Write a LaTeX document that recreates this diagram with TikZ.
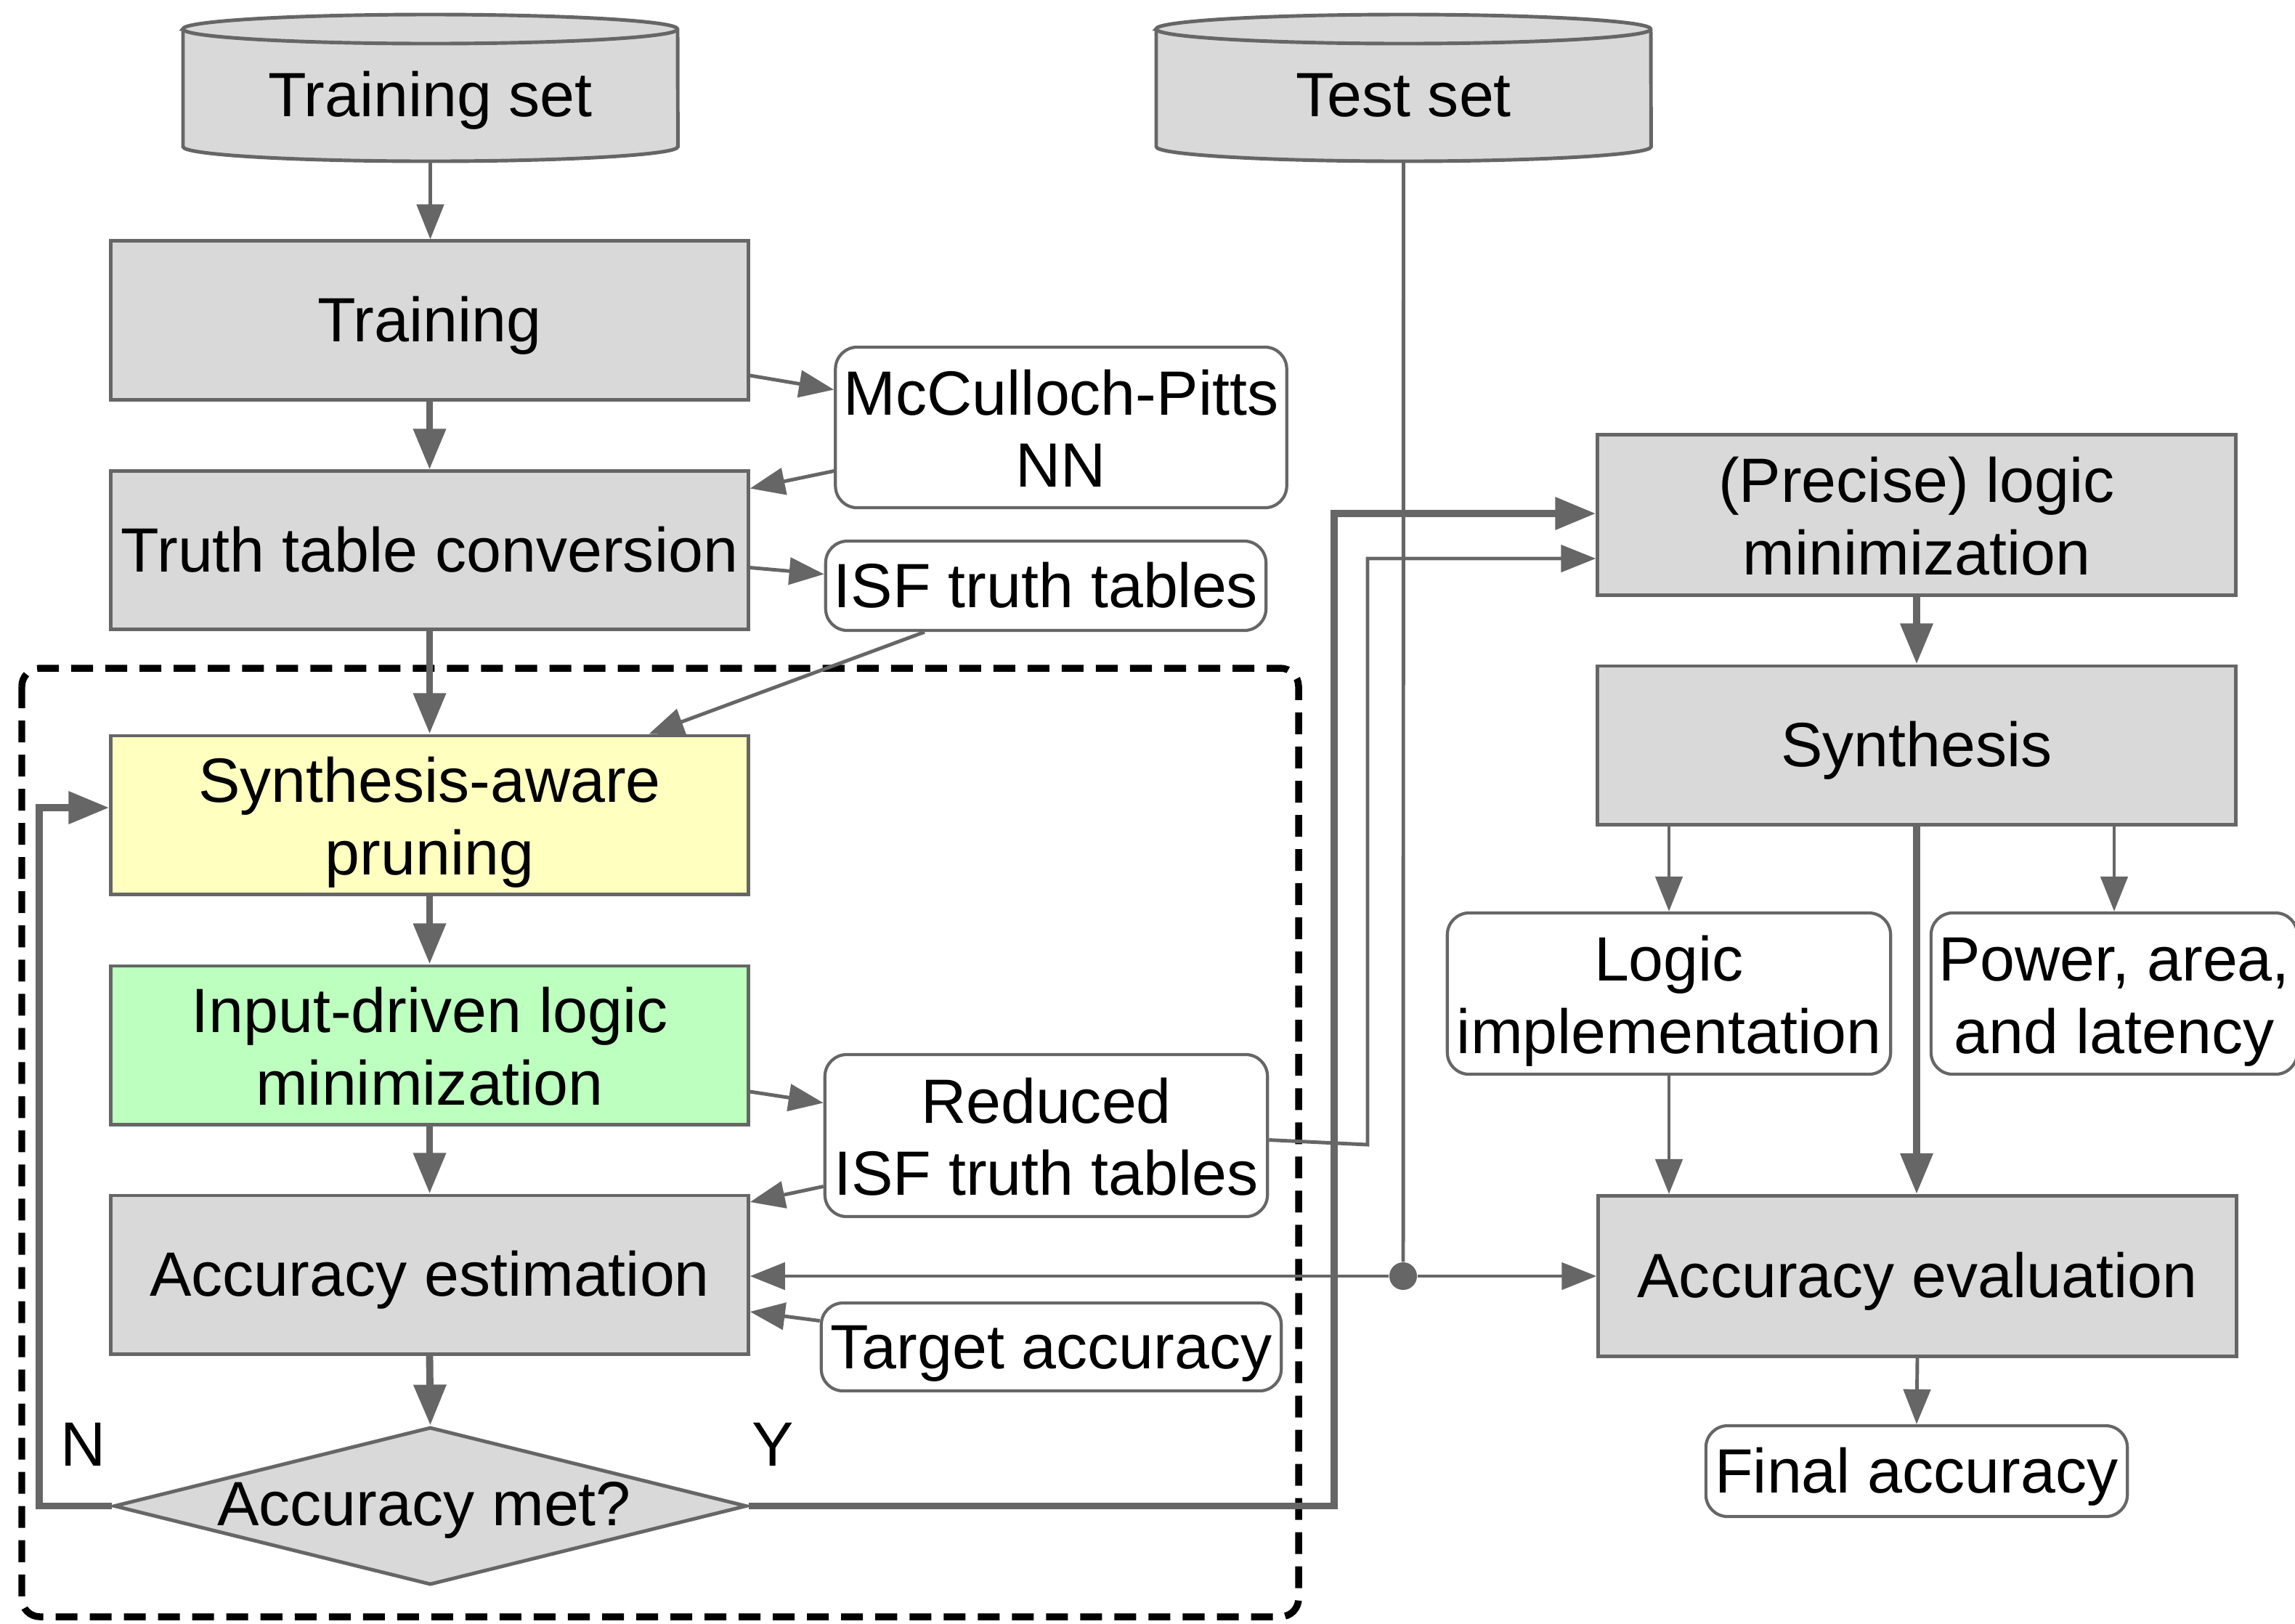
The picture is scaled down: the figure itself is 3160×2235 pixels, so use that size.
\documentclass[tikz,border=0pt]{standalone}
\usepackage{fontspec}
\setmainfont{Liberation Sans}
\usetikzlibrary{arrows.meta,shapes.geometric,calc}
\definecolor{cgray}{HTML}{666666}
\definecolor{cfill}{HTML}{D9D9D9}
\definecolor{cyellow}{HTML}{FFFFC0}
\definecolor{cgreen}{HTML}{BDFFBF}
\newcommand\lstr{\rule[-0.212em]{0pt}{1.117em}}
\newcommand\lstrt{\rule[-0.183cm]{0pt}{1.013cm}}
\begin{document}
\begin{tikzpicture}[x=0.01cm, y=-0.01cm,
  every node/.style={font=\fontsize{24.5pt}{28.2pt}\selectfont, inner sep=0pt, align=center},
  txt/.style={execute at begin node=\lstr},
  gbox/.style={txt, draw=cgray, fill=cfill, line width=1.4pt, rectangle},
  rbox/.style={txt, draw=cgray, fill=white, line width=1.2pt, rounded corners=0.3cm},
  cylpath/.style={draw=cgray, fill=cfill, line width=1.4pt},
  thinline/.style={draw=cgray, line width=1.4pt},
  thickline/.style={draw=cgray, line width=2.8pt},
  thinarr/.style={thinline, -{Triangle[length=0.48cm, width=0.37cm]}},
  thickarr/.style={thickline, -{Triangle[length=0.56cm, width=0.43cm]}},
  groupbox/.style={draw=black, line width=2.7pt, dash pattern=on 0.3cm off 0.17cm, rounded corners=0.25cm},
]
\useasboundingbox (0,0) rectangle (3160,2235);

% dashed group
\draw[groupbox] (30,920) rectangle (1788,2226);

% cylinders
\path[cylpath] (252,40) -- (252,202) arc[start angle=180, end angle=360, x radius=3.405cm, y radius=0.2cm] -- (933,40) arc[start angle=0, end angle=180, x radius=3.405cm, y radius=0.2cm] -- cycle;
\draw[thinline] (252,40) arc[start angle=180, end angle=360, x radius=3.405cm, y radius=0.2cm];
\path[cylpath] (1592,40) -- (1592,202) arc[start angle=180, end angle=360, x radius=3.405cm, y radius=0.2cm] -- (2273,40) arc[start angle=0, end angle=180, x radius=3.405cm, y radius=0.2cm] -- cycle;
\draw[thinline] (1592,40) arc[start angle=180, end angle=360, x radius=3.405cm, y radius=0.2cm];

\node[txt, minimum width=6.81cm, minimum height=1.82cm] (trainset) at (592.5,131) {Training set};
\node[txt, minimum width=6.81cm, minimum height=1.82cm] (testset) at (1932.5,131) {Test set};

% left column
\node[gbox, minimum width=8.77cm, minimum height=2.18cm] (train) at (591.5,441) {Training};
\node[gbox, minimum width=8.77cm, minimum height=2.17cm] (truth) at (591.5,757.5) {Truth table conversion};
\node[gbox, fill=cyellow, minimum width=8.77cm, minimum height=2.18cm] (prune) at (591.5,1122) {\lstrt Synthesis-aware\\\lstr pruning};
\node[gbox, fill=cgreen, minimum width=8.77cm, minimum height=2.18cm] (input) at (591.5,1439) {\lstrt Input-driven logic\\\lstr minimization};
\node[gbox, minimum width=8.77cm, minimum height=2.18cm] (accest) at (591.5,1755) {Accuracy estimation};
\node[diamond, draw=cgray, fill=cfill, line width=1.4pt, minimum width=8.71cm, minimum height=2.17cm] (dia) at (592.5,2073.5) {};
\node[txt] (diatext) at (584,2071) {Accuracy met?};
\node[txt] (nlab) at (115,1989) {N};
\node[txt] (ylab) at (1064,1989) {Y};

% middle column
\node[rbox, minimum width=6.21cm, minimum height=2.21cm] (mcc) at (1461,588.5) {\lstrt McCulloch-Pitts\\\lstr NN};
\node[rbox, minimum width=6.06cm, minimum height=1.23cm] (isf) at (1440,806.5) {ISF truth tables};
\node[rbox, minimum width=6.09cm, minimum height=2.23cm] (red) at (1440.5,1563.5) {\lstrt Reduced\\\lstr ISF truth tables};
\node[rbox, minimum width=6.33cm, minimum height=1.21cm] (target) at (1447.5,1854.5) {Target accuracy};

% right column
\node[gbox, minimum width=8.78cm, minimum height=2.2cm] (precise) at (2639,709) {\lstrt (Precise) logic\\\lstr minimization};
\node[gbox, minimum width=8.78cm, minimum height=2.18cm] (synth) at (2639,1026) {Synthesis};
\node[rbox, minimum width=6.1cm, minimum height=2.22cm] (impl) at (2298,1368) {\lstrt Logic\\\lstr implementation};
\node[rbox, minimum width=5.04cm, minimum height=2.22cm] (power) at (2911,1368) {\lstrt Power, area,\\\lstr and latency};
\node[gbox, minimum width=8.78cm, minimum height=2.21cm] (acceval) at (2640,1757) {Accuracy evaluation};
\node[rbox, minimum width=5.8cm, minimum height=1.25cm] (final) at (2639,2025.5) {Final accuracy};
\node[circle, fill=cgray, minimum size=0.38cm] (dot) at (1932,1757) {};

% connectors, left column
\draw[thinarr] (trainset.south) -- (trainset.south |- train.north);
\draw[thickarr] (train.south) -- (truth.north);
\draw[thickarr] (truth.south) -- (prune.north);
\draw[thickarr] (prune.south) -- (input.north);
\draw[thickarr] (input.south) -- (accest.north);
\draw[thickarr] (accest.south) -- (dia.north);

% side connectors
\draw[thinarr] ($(train.east)+(0,76)$) -- ($(mcc.west)+(0,-52)$);
\draw[thinarr] ($(mcc.west)+(0,60)$) -- ($(truth.east)+(0,-85)$);
\draw[thinarr] ($(truth.east)+(0,24)$) -- ($(isf.west)+(0,-16)$);
\draw[thinarr] ($(isf.south)+(-167,0)$) -- ($(prune.north)+(302,0)$);
\draw[thinarr] ($(input.east)+(0,64)$) -- ($(red.west)+(0,-45)$);
\draw[thinarr] ($(red.west)+(0,70)$) -- ($(accest.east)+(0,-100)$);
\draw[thinarr] ($(target.west)+(0,-36)$) -- ($(accest.east)+(0,51)$);

% test set distribution
\draw[thinline] (testset.south) -- (dot);
\draw[thinarr] (dot) -- (dot -| accest.east);
\draw[thinarr] (dot) -- (dot -| acceval.west);

% loops
\draw[thickarr] (dia.west) -- ++(-100,0) |- ($(prune.west)+(0,-10)$);
\draw[thickarr] (dia.east) -- (1837,2073.5) |- ($(precise.west)+(0,-2)$);
\draw[thinarr] ($(red.east)+(0,6)$) -- (1883,1576) |- ($(precise.west)+(0,60)$);

% right column connectors
\draw[thickarr] (precise.south) -- (synth.north);
\draw[thinarr] (synth.south -| impl.north) -- (impl.north);
\draw[thinarr] (synth.south -| power.north) -- (power.north);
\draw[thinarr] (impl.south) -- (impl.south |- acceval.north);
\draw[thickarr] (synth.south) -- (synth.south |- acceval.north);
\draw[thinarr] (acceval.south) -- (final.north);
\end{tikzpicture}
\end{document}
